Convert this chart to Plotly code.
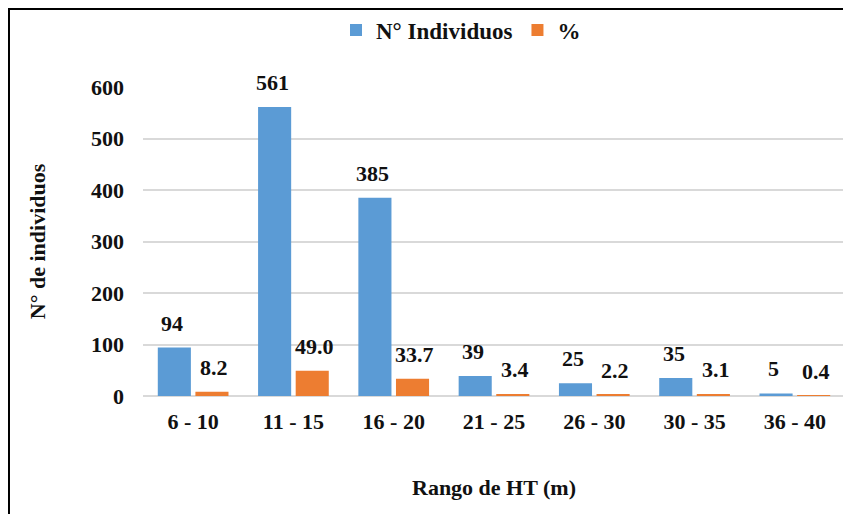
import plotly.graph_objects as go

categories = ["6 - 10", "11 - 15", "16 - 20", "21 - 25", "26 - 30", "30 - 35", "36 - 40"]
individuos = [94, 561, 385, 39, 25, 35, 5]
porcentaje = [8.2, 49.0, 33.7, 3.4, 2.2, 3.1, 0.4]

FONT = "Liberation Serif"
SZ = 22
fig = go.Figure()
fig.add_trace(go.Bar(x=categories, y=individuos, name="<b>N° Individuos</b>",
                     marker=dict(color="#5B9BD5", line=dict(width=0))))
fig.add_trace(go.Bar(x=categories, y=porcentaje, name="<b>%</b>",
                     marker=dict(color="#ED7D31", line=dict(width=0))))

annotations = []
for c, v in zip(categories, individuos):
    annotations.append(dict(x=c, y=v, text=f"<b>{v}</b>", showarrow=False, xshift=-21,
                            yanchor="bottom", yshift=10,
                            font=dict(family=FONT, size=SZ, color="#111")))
for c, v in zip(categories, porcentaje):
    annotations.append(dict(x=c, y=v, text=f"<b>{v:.1f}</b>", showarrow=False, xshift=21,
                            yanchor="bottom", yshift=10,
                            font=dict(family=FONT, size=SZ, color="#111")))

fig.update_layout(
    width=843, height=506,
    margin=dict(l=135, r=6, t=79, b=118, autoexpand=False),
    paper_bgcolor="white", plot_bgcolor="white",
    barmode="group", bargap=0.25, bargroupgap=0.12,
    font=dict(family=FONT, size=SZ, color="#111"),
    showlegend=True,
    legend=dict(orientation="h", x=0.453, xanchor="center", y=1.184, yanchor="middle",
                font=dict(family=FONT, size=23, color="#111"), itemwidth=30,
                bgcolor="rgba(0,0,0,0)"),
    annotations=annotations,
    shapes=[dict(type="rect", xref="paper", yref="paper",
                 x0=-0.1909, x1=1.05, y0=-0.5, y1=1.2524,
                 line=dict(color="black", width=2), fillcolor="rgba(0,0,0,0)")],
)
fig.update_xaxes(
    showgrid=False, showline=False, zeroline=False,
    tickfont=dict(family=FONT, size=SZ, color="#111"),
    tickprefix="<b>", ticksuffix="</b>",
    ticklabelstandoff=10,
    title=dict(text="<b>Rango de HT (m)</b>", font=dict(family=FONT, size=SZ, color="#111"),
               standoff=46),
)
fig.update_yaxes(
    range=[0, 600], dtick=100, showgrid=True, gridcolor="#D9D9D9", gridwidth=1.5,
    zeroline=True, zerolinecolor="#D9D9D9", zerolinewidth=1.5, showline=False,
    tickfont=dict(family=FONT, size=SZ, color="#111"),
    tickprefix="<b>", ticksuffix="</b>",
    ticklabelstandoff=18,
    title=dict(text="<b>N° de individuos</b>", font=dict(family=FONT, size=SZ, color="#111"),
               standoff=39),
)
fig.write_html("out.html")
